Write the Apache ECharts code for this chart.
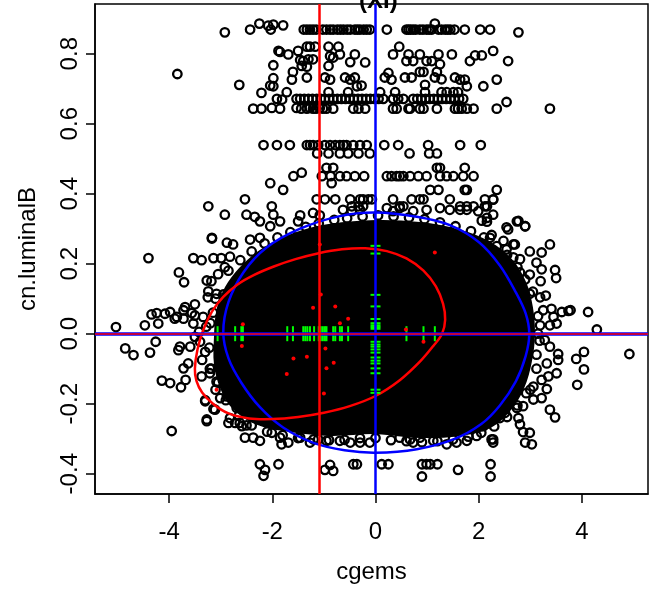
<!DOCTYPE html>
<html>
<head>
<meta charset="utf-8">
<script src="https://cdn.jsdelivr.net/npm/echarts@6/dist/echarts.min.js"></script>
<style>
  html, body { margin: 0; padding: 0; background: #fff; }
  #main { width: 653px; height: 589px; }
</style>
</head>
<body>
<div id="main"></div>
<script>
// axis ticks
const xTicks = [-4, -2, 0, 2, 4];
const yTicks = [-0.4, -0.2, 0, 0.2, 0.4, 0.6, 0.8];

// reference lines
const groupMeanX = -1.09;
const refX = 0;
const refY = 0;

// sparse upper band of points (cgems, cn.luminalB)
const bandPts = [
  [-2.92,0.861],[-2.43,0.869],[-2.25,0.886],[-2.08,0.880],[-2.03,0.869],[-1.98,0.883],[-1.79,0.881],
  [-1.39,0.869],[-1.33,0.869],[-1.27,0.869],[-1.21,0.869],[-1.15,0.869],[-1.02,0.869],[-0.95,0.869],[-0.88,0.869],
  [-0.82,0.869],[-0.74,0.869],[-0.68,0.869],[-0.62,0.869],[-0.55,0.869],[-0.49,0.869],[-0.40,0.869],[-0.35,0.869],
  [-0.30,0.869],[-0.23,0.869],[-0.17,0.869],[-0.11,0.869],[0.22,0.869],[0.60,0.869],[0.64,0.869],[0.68,0.869],
  [0.73,0.869],[0.78,0.869],[0.86,0.869],[0.92,0.869],[0.99,0.869],[1.04,0.869],[1.09,0.869],[1.15,0.886],
  [1.22,0.869],[1.28,0.869],[1.35,0.869],[1.40,0.869],[1.45,0.869],[1.53,0.869],[1.73,0.869],[2.03,0.869],
  [2.22,0.869],[2.77,0.861],
  [-1.88,0.808],[-1.85,0.805],[-1.69,0.798],[-1.50,0.808],[-1.33,0.820],[-1.27,0.820],[-1.17,0.820],[-0.91,0.820],
  [-0.72,0.820],[-0.88,0.793],[-0.69,0.798],[-0.82,0.789],[-0.40,0.798],[0.46,0.820],[0.34,0.798],[0.64,0.798],
  [0.86,0.798],[1.22,0.798],[1.48,0.798],[1.93,0.795],[2.06,0.795],[2.28,0.808],
  [-1.46,0.782],[-1.40,0.779],[-1.30,0.784],[-1.21,0.784],[-0.49,0.776],[-0.20,0.775],[0.60,0.779],[0.73,0.779],
  [0.99,0.779],[1.09,0.779],[1.25,0.770],[1.83,0.779],[2.57,0.779],
  [-1.43,0.765],[-1.33,0.763],[-0.91,0.765],[-1.98,0.767],
  [-1.60,0.748],[-1.62,0.726],[-1.98,0.730],[-1.33,0.732],[-0.98,0.732],[-0.88,0.726],[-0.59,0.732],[-0.49,0.726],
  [-0.40,0.732],[0.25,0.745],[0.18,0.732],[0.31,0.726],[0.57,0.732],[0.70,0.732],[0.86,0.748],[0.93,0.748],
  [1.19,0.748],[1.15,0.732],[1.28,0.727],[1.54,0.732],[1.64,0.726],[1.73,0.726],[2.35,0.726],[-3.84,0.742],
  [-2.64,0.711],[-2.04,0.709],[-1.98,0.707],[-0.36,0.707],[-0.27,0.709],[0.96,0.711],[1.77,0.707],[2.09,0.707],
  [-1.72,0.690],[-2.21,0.688],[-0.91,0.690],[-0.53,0.690],[0.09,0.690],[0.38,0.690],[0.96,0.690],[1.28,0.690],
  [1.38,0.690],[1.51,0.690],[1.60,0.690],
  [-1.91,0.671],[-1.81,0.669],[-1.53,0.671],[-1.46,0.671],[-1.38,0.671],[-1.30,0.671],[-1.22,0.671],[-1.14,0.671],
  [-1.06,0.671],[-0.98,0.671],[-0.90,0.671],[-0.82,0.671],[-0.74,0.671],[-0.66,0.671],[-0.58,0.671],[-0.50,0.671],
  [-0.42,0.671],[-0.34,0.671],[-0.26,0.671],[-0.18,0.671],[-0.10,0.671],[-0.02,0.671],[0.06,0.671],[0.15,0.671],
  [0.34,0.671],[0.44,0.671],[0.54,0.671],[0.73,0.671],[0.81,0.671],[0.89,0.671],[0.97,0.671],[1.05,0.671],
  [1.13,0.671],[1.21,0.671],[1.29,0.671],[1.37,0.671],[1.45,0.671],[1.53,0.671],[1.62,0.671],[1.70,0.671],
  [-2.37,0.643],[-2.21,0.643],[-2.01,0.645],[-1.85,0.643],[-1.53,0.645],[-1.44,0.643],[-1.33,0.643],[-1.27,0.645],
  [-1.21,0.643],[-1.15,0.643],[-1.08,0.645],[-1.02,0.643],[-0.95,0.643],[-0.82,0.643],[-0.43,0.643],[-0.33,0.643],
  [-0.20,0.643],[0.34,0.643],[0.41,0.643],[0.64,0.643],[0.67,0.643],[0.86,0.643],[0.93,0.643],[1.19,0.643],
  [1.54,0.643],[1.60,0.643],[1.67,0.643],[1.77,0.643],[1.90,0.643],[2.35,0.643],[3.38,0.643],[2.54,0.662],
  [-2.17,0.539],[-1.91,0.539],[-1.66,0.539],[-1.33,0.539],[-1.27,0.539],[-1.21,0.539],[-1.11,0.539],[-0.98,0.539],
  [-0.88,0.539],[-0.78,0.539],[-0.69,0.539],[-0.62,0.539],[-0.56,0.539],[-0.43,0.539],[-0.30,0.539],[-0.17,0.539],
  [0.17,0.539],[0.44,0.539],[1.02,0.539],[1.64,0.539],[2.04,0.539],
  [-1.13,0.515],[-0.91,0.515],[-0.69,0.515],[-0.53,0.515],[-0.33,0.515],[-0.11,0.515],[0.66,0.515],[1.04,0.515],[1.19,0.515],
  [-0.95,0.474],[-0.82,0.474],[1.19,0.474],[1.25,0.474],[1.73,0.474],
  [-1.43,0.460],[-1.59,0.450],[-1.04,0.450],[-0.87,0.450],[-0.69,0.450],[-0.56,0.450],[-0.40,0.450],[-0.22,0.450],
  [0.22,0.450],[0.31,0.450],[0.41,0.450],[0.47,0.450],[0.54,0.450],[0.67,0.450],[0.83,0.450],[0.99,0.450],
  [1.25,0.450],[1.38,0.450],[1.51,0.450],[1.70,0.450],[1.90,0.450],
  [-2.04,0.430],[-0.85,0.430],
  [-1.79,0.411],[1.06,0.411],[1.22,0.411],[1.73,0.411],[1.77,0.411],[2.35,0.411],
  [-2.53,0.384],[-1.14,0.384],[-0.98,0.384],[-0.78,0.384],[-0.49,0.384],[-0.30,0.384],[-0.24,0.384],[-0.14,0.384],
  [-0.07,0.384],[0.34,0.384],[0.70,0.384],[0.86,0.384],[0.93,0.384],[1.44,0.384],[2.12,0.384],[2.28,0.384],
  [-3.24,0.364],[-2.01,0.364],[-0.46,0.364],[-0.33,0.364],[-0.24,0.364],[0.47,0.364],[0.54,0.364],[1.64,0.364],
  [1.77,0.364],[1.90,0.364],[2.16,0.364],
  [-2.92,0.340],[-2.50,0.340],[-2.34,0.334],[-1.98,0.340],[-1.46,0.338],[-1.21,0.345],[-1.08,0.338],[-0.63,0.354],
  [-0.46,0.350],[-0.30,0.354],[0.22,0.359],[0.34,0.350],[0.47,0.359],[0.73,0.350],[0.99,0.354],[1.25,0.359],
  [1.44,0.354],[1.64,0.354],[1.77,0.354],[1.99,0.350],[2.16,0.331],[2.28,0.340],
  [-2.24,0.321],[-2.04,0.307],[-1.85,0.321],[-1.50,0.321],[2.54,0.304],[2.74,0.321],[2.90,0.307],
  [-3.17,0.274],[-2.88,0.260],[-2.76,0.255],[-2.43,0.269],[-2.24,0.274],[2.22,0.274],[2.48,0.265],[2.67,0.255]
];

// points on the left flank of the main cloud
const leftPts = [
  [-3.17,0.272],[-4.40,0.216],[-3.53,0.216],[-3.37,0.210],[-3.14,0.216],[-2.99,0.216],[-2.82,0.220],
  [-3.81,0.175],[-3.71,0.147],[-3.27,0.152],[-3.24,0.121],[-3.08,0.114],[-2.95,0.112],
  [-4.34,0.055],[-4.24,0.059],[-4.08,0.057],[-3.98,0.062],[-3.85,0.048],[-3.72,0.067],[-3.69,0.076],
  [-3.56,0.059],[-3.50,0.084],[-5.03,0.019],[-4.47,0.024],[-4.21,0.029],[-3.89,0.043],[-3.72,0.043],
  [-3.53,0.029],[-3.50,0.052],[-4.85,-0.042],[-4.69,-0.061],[-4.26,-0.023],[-4.37,-0.054],[-3.82,-0.047],
  [-3.79,-0.037],[-3.59,-0.037],[-3.72,-0.099],[-3.63,-0.085],[-4.14,-0.134],[-3.98,-0.141],[-3.77,-0.153],
  [-3.68,-0.132],[-3.30,-0.190],[-3.14,-0.215],[-3.27,-0.250],[-3.95,-0.278],[-2.85,-0.255],[-2.72,-0.255],
  [-2.59,-0.264],[-3.01,-0.184],[-2.88,-0.179],[-3.37,-0.122],[-3.21,-0.113],
  [-3.50,-0.009],[-3.40,-0.023],[-3.30,-0.052],[-3.25,0.104],[-3.34,0.048],[-3.21,-0.100],[-3.42,0.005],
  [-3.28,0.020],[-3.36,-0.075],[-3.18,0.150],[-3.05,0.170],[-2.92,0.190],[-3.10,-0.160]
];

// points on the right flank
const rightPts = [
  [2.12,0.364],[2.28,0.383],[2.06,0.323],[2.16,0.320],[2.57,0.298],[2.77,0.322],[2.90,0.307],[2.25,0.282],
  [3.38,0.255],[2.70,0.255],[2.99,0.235],[3.22,0.232],[2.54,0.241],[2.67,0.218],[2.80,0.213],[3.12,0.203],
  [3.22,0.184],[3.48,0.182],[3.50,0.159],[2.61,0.194],[2.80,0.175],[2.99,0.169],[3.19,0.104],[3.30,0.109],
  [2.99,0.114],[3.41,0.071],[3.25,0.067],[3.61,0.062],[3.74,0.065],[3.78,0.067],[4.12,0.062],[4.29,0.012],
  [3.45,0.048],[3.51,0.029],[3.38,0.024],[3.19,0.024],[4.92,-0.058],[4.04,-0.052],[3.89,-0.072],[4.04,-0.102],
  [3.54,-0.058],[3.54,-0.075],[3.28,-0.018],[3.38,-0.037],[3.32,-0.085],[3.51,-0.113],[3.35,-0.122],[3.22,-0.132],
  [3.91,-0.146],[3.32,-0.158],[3.06,-0.151],[3.22,-0.184],[3.06,-0.188],[3.38,-0.217],[3.48,-0.239],[2.86,-0.207],
  [2.74,-0.212],[2.77,-0.241],[2.80,-0.259],[2.86,-0.281],[2.99,-0.283],[2.90,-0.311],[3.03,-0.316],[2.25,-0.302],
  [2.28,-0.311],[2.51,-0.226],[2.41,-0.241],[2.57,-0.203],[3.15,0.000],[3.20,0.150],[3.12,-0.060]
];

// points along the bottom of the cloud
const bottomPts = [
  [-3.27,-0.245],[-3.11,-0.217],[-3.30,-0.193],[-3.08,-0.137],[-2.69,-0.212],[-2.56,-0.212],[-2.82,-0.241],
  [-2.63,-0.255],[-2.50,-0.262],[-2.53,-0.297],[-2.37,-0.297],[-2.24,-0.306],[-2.01,-0.283],[-1.85,-0.297],
  [-1.69,-0.311],[-1.82,-0.316],[-1.46,-0.297],[-1.27,-0.311],[-1.11,-0.302],[-0.95,-0.306],[-0.69,-0.306],
  [-0.49,-0.311],[-0.30,-0.311],[-0.11,-0.311],[-2.24,-0.373],[-1.88,-0.373],[-2.17,-0.406],[-2.14,-0.389],
  [-0.98,-0.389],[-0.88,-0.375],[-0.82,-0.392],[-0.43,-0.373],[-0.36,-0.373],[0.12,-0.373],[0.25,-0.373],
  [0.90,-0.373],[0.99,-0.373],[1.06,-0.373],[1.20,-0.373],[0.90,-0.408],[1.60,-0.389],[2.23,-0.373],
  [2.23,-0.408],[0.47,-0.297],[0.67,-0.302],[0.86,-0.297],[0.73,-0.311],[1.12,-0.306],[1.38,-0.316],
  [1.57,-0.311],[1.77,-0.306],[1.96,-0.292],[2.09,-0.264],[2.28,-0.302],[2.32,-0.184],[2.35,-0.170]
];

// points crowding the ragged rim of the core
const rimPts = [
  [-2.85,0.180],[-2.62,0.210],[-2.40,0.235],[-2.15,0.258],[-1.90,0.275],[-1.65,0.290],[-1.35,0.305],
  [-1.10,0.315],[-0.80,0.325],[-0.55,0.330],[-0.25,0.335],[0.05,0.338],[0.35,0.335],[0.65,0.332],
  [0.95,0.327],[1.25,0.318],[1.55,0.307],[1.85,0.293],[2.10,0.275],[2.35,0.250],[2.55,0.225],[2.75,0.190],
  [2.90,0.155],
  [-2.90,-0.190],[-2.65,-0.235],[-2.40,-0.262],[-2.10,-0.280],[-1.80,-0.290],[-1.50,-0.298],[-1.20,-0.302],
  [-0.90,-0.304],[-0.60,-0.303],[-0.30,-0.298],[0.00,-0.298],[0.30,-0.304],[0.60,-0.307],[0.90,-0.310],
  [1.20,-0.307],[1.50,-0.302],[1.80,-0.294],[2.05,-0.283],[2.30,-0.265],[2.55,-0.238],[2.75,-0.205],[2.92,-0.170],
  [-3.20,0.030],[-3.22,-0.040],[-3.18,-0.100],[-3.10,0.100],[-3.15,0.060],[-3.05,-0.140],
  [3.15,0.050],[3.18,-0.020],[3.12,-0.100],[3.05,0.120],[3.00,-0.160]
];

// outline of the saturated black core of the cloud
const coreOutline = [
  [-3.13,-0.009],[-3.09,0.062],[-2.97,0.118],[-2.72,0.175],[-2.39,0.223],[-2.01,0.260],[-1.46,0.294],
  [-0.88,0.314],[0.01,0.325],[0.86,0.319],[1.64,0.297],[2.22,0.263],[2.65,0.212],[2.92,0.147],[3.05,0.076],
  [3.09,-0.003],[3.03,-0.080],[2.88,-0.156],[2.61,-0.221],[2.22,-0.270],[1.64,-0.292],[0.86,-0.298],
  [0.01,-0.287],[-0.88,-0.292],[-1.66,-0.281],[-2.34,-0.258],[-2.78,-0.213],[-3.01,-0.156],[-3.13,-0.088]
];

// data ellipses (closed outlines)
const blueEllipse = [
  [0.00,0.346],[0.80,0.334],[1.44,0.310],[2.00,0.262],[2.41,0.195],[2.72,0.118],[2.91,0.058],[2.98,0.000],
  [2.91,-0.064],[2.72,-0.136],[2.41,-0.205],[2.05,-0.258],[1.51,-0.302],[0.80,-0.330],[0.00,-0.340],
  [-0.60,-0.333],[-1.20,-0.312],[-1.79,-0.268],[-2.24,-0.210],[-2.60,-0.140],[-2.85,-0.070],[-2.95,0.005],
  [-2.85,0.090],[-2.56,0.175],[-2.11,0.246],[-1.46,0.300],[-0.69,0.336]
];
const redEllipse = [
  [-3.50,-0.100],[-3.45,-0.045],[-3.34,0.010],[-3.17,0.063],[-2.95,0.105],[-2.68,0.140],[-2.35,0.168],
  [-1.97,0.192],[-1.55,0.213],[-1.10,0.230],[-0.65,0.241],[-0.20,0.244],[0.22,0.236],[0.60,0.215],
  [0.93,0.180],[1.17,0.135],[1.31,0.085],[1.35,0.040],[1.29,0.000],[1.12,-0.035],[0.86,-0.080],
  [0.47,-0.133],[0.00,-0.178],[-0.50,-0.207],[-1.00,-0.226],[-1.50,-0.238],[-2.00,-0.244],[-2.45,-0.242],
  [-2.86,-0.227],[-3.15,-0.200],[-3.36,-0.168],[-3.47,-0.135]
];

// highlighted samples (red) and their rug marks (green)
const redPts = [
  [-1.08,0.255],[-1.06,0.112],[-1.21,0.074],[-0.78,0.078],[-0.53,0.043],[-0.69,0.030],[0.59,0.012],
  [1.15,0.232],[-2.57,0.027],[-2.59,-0.035],[-1.59,-0.071],[-1.33,-0.066],[-0.97,-0.042],[-0.81,-0.083],
  [-0.95,-0.099],[-1.72,-0.115],[-1.00,-0.171],[0.93,-0.023],[-3.08,-0.160]
];
const rugX = [
  -3.06, -2.72, -2.60, -2.57, -1.71, -1.60, -1.40, -1.36, -1.32, -1.27, -1.19, -1.10, -1.06, -1.02, -0.98,
  -0.95, -0.82, -0.78, -0.69, -0.65, -0.53, 0.60, 0.93, 1.15
];
const rugY = [
  0.251, 0.229, 0.111, 0.078, 0.042, 0.030, 0.024, 0.019, 0.014, 0.000, -0.023, -0.031, -0.037, -0.045,
  -0.054, -0.068, -0.077, -0.085, -0.099, -0.113, -0.160, -0.169
];

const FONT = 'Liberation Sans, Arial, Helvetica, sans-serif';

// closed smooth outline through the given points, drawn on the cartesian scales
function outlineSeries(points, color, fill, z) {
  return {
    type: 'custom',
    z: z,
    silent: true,
    data: points,
    renderItem: function (params, api) {
      if (params.dataIndex !== 0) return null;
      var pts = points.map(function (p) { return api.coord(p); });
      return {
        type: 'polygon',
        shape: { points: pts, smooth: 0.35 },
        style: fill ? { fill: color } : { fill: null, stroke: color, lineWidth: 2.5 }
      };
    }
  };
}

var myChart = echarts.init(document.getElementById('main'));

var option = {
  animation: false,
  title: {
    text: '(XI)',
    left: 354,
    top: -16,
    textStyle: { fontSize: 24, fontWeight: 'bold', color: '#000', fontFamily: FONT }
  },
  grid: {
    left: 95, right: 5, top: 4, bottom: 90.5,
    show: true, borderColor: '#000', borderWidth: 1.5
  },
  xAxis: {
    type: 'value',
    min: -5.436,
    max: 5.281,
    name: 'cgems',
    nameLocation: 'middle',
    nameGap: 66,
    nameTextStyle: { fontSize: 24, color: '#000', fontFamily: FONT },
    axisLine: { show: true, onZero: false, lineStyle: { color: '#000', width: 1.5 } },
    axisTick: { show: true, length: 9, customValues: xTicks, lineStyle: { color: '#000', width: 1.5 } },
    axisLabel: { customValues: xTicks, fontSize: 24, color: '#000', margin: 26, fontFamily: FONT },
    splitLine: { show: false }
  },
  yAxis: {
    type: 'value',
    min: -0.458,
    max: 0.942,
    name: 'cn.luminalB',
    nameLocation: 'middle',
    nameGap: 55,
    nameTextStyle: { fontSize: 24, color: '#000', fontFamily: FONT },
    axisLine: { show: true, onZero: false, lineStyle: { color: '#000', width: 1.5 } },
    axisTick: { show: true, length: 9, customValues: yTicks, lineStyle: { color: '#000', width: 1.5 } },
    axisLabel: {
      customValues: yTicks, fontSize: 24, color: '#000', margin: 13, rotate: 90, fontFamily: FONT,
      formatter: function (v) { return v.toFixed(1); }
    },
    splitLine: { show: false }
  },
  series: [
    outlineSeries(coreOutline, '#000', true, 1),
    {
      type: 'scatter',
      z: 2,
      symbol: 'circle',
      symbolSize: 8.5,
      data: bandPts.concat(leftPts, rightPts, bottomPts, rimPts),
      itemStyle: { color: 'rgba(0,0,0,0)', borderColor: '#000', borderWidth: 2.3, opacity: 1 }
    },
    outlineSeries(blueEllipse, '#0000ff', false, 3),
    outlineSeries(redEllipse, '#ff0000', false, 3),
    {
      type: 'scatter',
      z: 4,
      symbol: 'rect',
      symbolSize: [2, 15],
      data: rugX.map(function (x) { return [x, refY]; }),
      itemStyle: { color: '#00ff00', opacity: 1 }
    },
    {
      type: 'scatter',
      z: 4,
      symbol: 'rect',
      symbolSize: [10, 2],
      data: rugY.map(function (y) { return [refX, y]; }),
      itemStyle: { color: '#00ff00', opacity: 1 }
    },
    {
      type: 'scatter',
      z: 5,
      symbol: 'circle',
      symbolSize: 4,
      data: redPts,
      itemStyle: { color: '#ff0000', opacity: 1 }
    },
    {
      type: 'line',
      z: 6,
      data: [],
      markLine: {
        silent: true,
        symbol: 'none',
        label: { show: false },
        data: [
          { xAxis: refX, lineStyle: { color: '#0000ff', width: 2.5, type: 'solid' } },
          { yAxis: refY, lineStyle: { color: '#0000ff', width: 3.5, type: 'solid' } },
          { xAxis: groupMeanX, lineStyle: { color: '#ff0000', width: 2.5, type: 'solid' } },
          { yAxis: refY, lineStyle: { color: '#ff0000', width: 1.5, type: 'solid' } }
        ]
      }
    }
  ]
};

myChart.setOption(option);
</script>
</body>
</html>
